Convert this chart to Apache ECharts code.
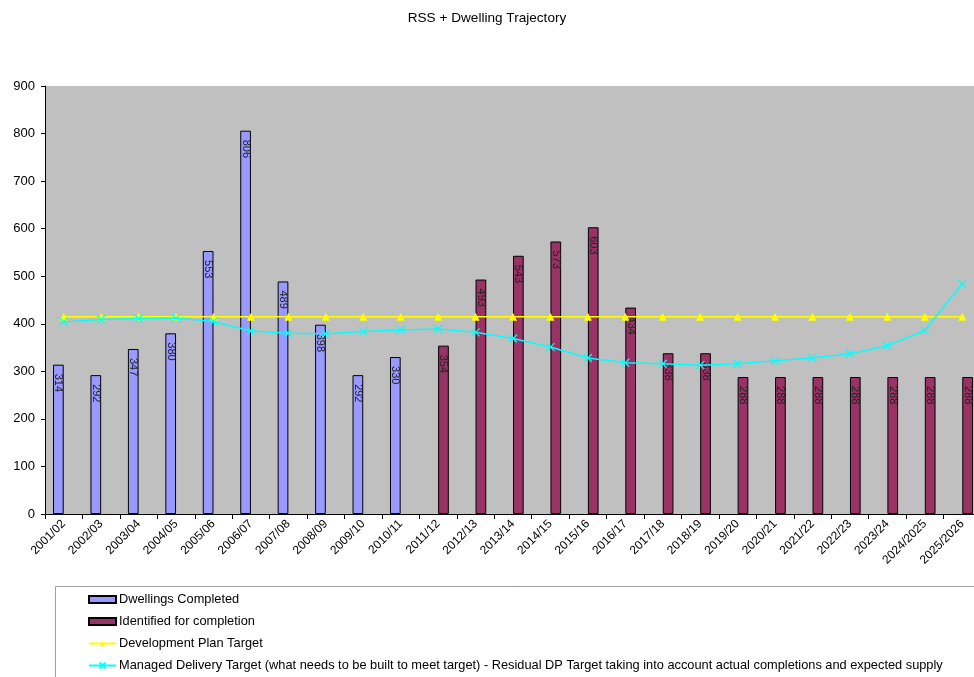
<!DOCTYPE html>
<html>
<head>
<meta charset="utf-8">
<script src="https://cdn.jsdelivr.net/npm/echarts@6/dist/echarts.min.js"></script>
<style>
html,body{margin:0;padding:0;background:#fff;}
#chart{width:974px;height:677px;}
</style>
</head>
<body>
<div id="chart"></div>
<script>
var categories = ['2001/02','2002/03','2003/04','2004/05','2005/06','2006/07','2007/08','2008/09','2009/10','2010/11','2011/12','2012/13','2013/14','2014/15','2015/16','2016/17','2017/18','2018/19','2019/20','2020/21','2021/22','2022/23','2023/24','2024/2025','2025/2026'];
var dwellingsCompleted = [314,292,347,380,553,806,489,398,292,330,null,null,null,null,null,null,null,null,null,null,null,null,null,null,null];
var identifiedForCompletion = [null,null,null,null,null,null,null,null,null,null,354,493,543,573,603,434,338,338,288,288,288,288,288,288,288];
var developmentPlanTarget = [415,415,415,415,415,415,415,415,415,415,415,415,415,415,415,415,415,415,415,415,415,415,415,415,415];
var managedDeliveryTarget = [404,409,411,412,405,385,380,379,384,387,389,382,369,351,328,318,316,313,316,322,328,337,354,386,484];
var yTicks = [0,100,200,300,400,500,600,700,800,900];
var seriesNames = ['Dwellings Completed','Identified for completion','Development Plan Target','Managed Delivery Target (what needs to be built to meet target) - Residual DP Target taking into account actual completions and expected supply'];

var FONT = 'Liberation Sans, Arial, sans-serif';
var chart = echarts.init(document.getElementById('chart'));
var barLabel = {
  show: true, position: 'insideTop', rotate: -90, align: 'left', verticalAlign: 'middle',
  offset: [4, 0], fontFamily: FONT, fontSize: 11, color: '#222'
};
function mkLegend(i, top) {
  return {
    orient: 'vertical', left: 88, top: top, padding: 0, itemWidth: 27, itemHeight: 7,
    textStyle: {fontFamily: FONT, fontSize: 12.8, color: '#000', padding: [0, 0, 0, -2]},
    data: [i < 2 ? {name: seriesNames[i], icon: 'rect'} : {name: seriesNames[i]}]
  };
}
chart.setOption({
  animation: false,
  title: {
    text: 'RSS + Dwelling Trajectory', left: 'center', top: 6,
    textStyle: {fontFamily: FONT, fontSize: 13.6, fontWeight: 'normal', color: '#000'}
  },
  graphic: [{
    type: 'rect', shape: {x: 55.5, y: 586.5, width: 930, height: 100},
    style: {fill: '#fff', stroke: '#a0a0a0', lineWidth: 1}, z: -1
  }],
  legend: [mkLegend(0, 593), mkLegend(1, 615), mkLegend(2, 637), mkLegend(3, 659)],
  grid: {left: 45, width: 936, top: 86, height: 428, outerBoundsMode: 'none', containLabel: false,
    show: true, backgroundColor: '#c0c0c0', borderWidth: 0},
  xAxis: {
    type: 'category', data: categories, boundaryGap: true,
    axisLine: {lineStyle: {color: '#000', width: 1}},
    axisTick: {show: true, length: 5, lineStyle: {color: '#000'}},
    axisLabel: {rotate: 45, fontFamily: FONT, fontSize: 12, color: '#000', margin: 8, interval: 0}
  },
  yAxis: {
    type: 'value', min: 0, max: 900, interval: 100,
    axisLine: {show: true, lineStyle: {color: '#000', width: 1}},
    axisTick: {show: true, length: 4, lineStyle: {color: '#000'}},
    splitLine: {show: false},
    axisLabel: {fontFamily: FONT, fontSize: 13, color: '#000', margin: 10,
      formatter: function (v) { return yTicks.indexOf(v) >= 0 ? String(v) : ''; }}
  },
  series: [
    {
      name: seriesNames[0], type: 'bar', data: dwellingsCompleted,
      barWidth: 10.7, barGap: '0%',
      itemStyle: {color: '#9999ff', borderColor: '#000', borderWidth: 1},
      label: barLabel
    },
    {
      name: seriesNames[1], type: 'bar', data: identifiedForCompletion,
      barWidth: 10.7, barGap: '0%',
      itemStyle: {color: '#993366', borderColor: '#000', borderWidth: 1},
      label: barLabel
    },
    {
      name: seriesNames[2], type: 'line', data: developmentPlanTarget,
      symbol: 'triangle', symbolSize: 8, showSymbol: true,
      lineStyle: {color: '#ffff00', width: 1.5},
      itemStyle: {color: '#ffff00'}, z: 5
    },
    {
      name: seriesNames[3], type: 'line', data: managedDeliveryTarget,
      symbol: 'path://M0,0L10,10M10,0L0,10', symbolSize: 8, showSymbol: true,
      lineStyle: {color: '#00ffff', width: 1.5},
      itemStyle: {color: 'transparent', borderColor: '#00ffff', borderWidth: 1.2}, z: 6
    }
  ]
});
</script>
</body>
</html>
